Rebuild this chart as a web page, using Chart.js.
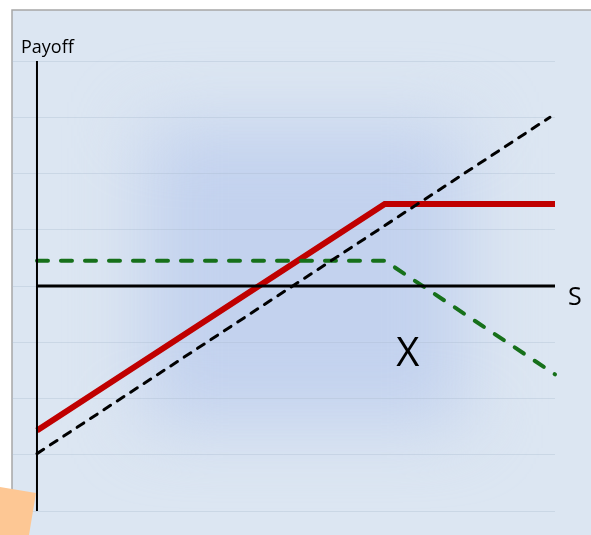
<!DOCTYPE html>
<html>
<head>
  <title>Payoff diagram</title>
  <script src="https://cdn.jsdelivr.net/npm/chart.js"></script>
  <style>
    body { margin: 0; background: #ffffff; }
    #wrap { width: 591px; height: 535px; }
  </style>
</head>
<body>
  <div id="wrap"><canvas id="myChart"></canvas></div>
  <script>
    // stock price points where the lines break
    const sPoints = [0, 6.21, 9.25];
    const redPayoff = [-2.57, 1.46, 1.46];      // solid red position
    const greenPayoff = [0.45, 0.45, -1.57];    // dashed green position
    const stockS = [0, 9.16];
    const stockPayoff = [-2.98, 3.0];           // dashed black position
    const strikeX = 6.21;
    const yTicks = [-4, 4];

    function pts(xs, ys) {
      return xs.map((x, i) => ({ x: x, y: ys[i] }));
    }

    // background, labels and the small peach shape
    const decor = {
      id: 'decor',
      beforeDraw(chart) {
        const c = chart.ctx;
        c.save();
        c.fillStyle = '#ffffff';
        c.fillRect(0, 0, chart.width, chart.height);
        c.fillStyle = '#dce6f2';
        c.fillRect(12, 10, chart.width - 12, chart.height - 10);
        c.filter = 'blur(35px)';
        c.fillStyle = '#c3d2ee';
        c.fillRect(145, 125, 320, 300);
        c.filter = 'none';
        c.strokeStyle = '#a6a6a6';
        c.lineWidth = 1.5;
        c.beginPath();
        c.moveTo(12, chart.height);
        c.lineTo(12, 10);
        c.lineTo(chart.width, 10);
        c.stroke();
        c.restore();
      },
      afterDraw(chart) {
        const c = chart.ctx;
        const xs = chart.scales.x, ys = chart.scales.y;
        c.save();
        c.fillStyle = '#000000';
        c.textBaseline = 'alphabetic';
        c.font = '18px "Open Sans"';
        c.fillText('Payoff', 21, 53);
        c.font = '25px "Open Sans"';
        c.fillText('S', 568, ys.getPixelForValue(0) + 19);
        c.font = '40px "Open Sans"';
        c.textAlign = 'center';
        c.fillText('X', xs.getPixelForValue(strikeX) + 23, 366);
        c.fillStyle = '#fdc794';
        c.beginPath();
        c.moveTo(0, 487);
        c.lineTo(36, 493);
        c.lineTo(29, chart.height);
        c.lineTo(0, chart.height);
        c.closePath();
        c.fill();
        c.restore();
      }
    };

    var ctx = document.getElementById('myChart').getContext('2d');
    var myChart = new Chart(ctx, {
      type: 'scatter',
      data: {
        datasets: [
          {
            label: 'y axis',
            data: pts([0, 0], [-4, 4]),
            showLine: true,
            borderColor: '#000000',
            borderWidth: 2,
            pointRadius: 0
          },
          {
            label: 'x axis',
            data: pts([0, 9.25], [0, 0]),
            showLine: true,
            borderColor: '#000000',
            borderWidth: 3,
            pointRadius: 0
          },
          {
            label: 'stock',
            data: pts(stockS, stockPayoff),
            showLine: true,
            borderColor: '#000000',
            borderWidth: 3,
            borderDash: [8, 8],
            borderCapStyle: 'round',
            pointRadius: 0
          },
          {
            label: 'put',
            data: pts(sPoints, greenPayoff),
            showLine: true,
            borderColor: '#16701a',
            borderWidth: 4,
            borderDash: [11, 13],
            borderCapStyle: 'round',
            pointRadius: 0
          },
          {
            label: 'covered call',
            data: pts(sPoints, redPayoff),
            showLine: true,
            borderColor: '#c00000',
            borderWidth: 6,
            pointRadius: 0
          }
        ]
      },
      options: {
        responsive: true,
        maintainAspectRatio: false,
        animation: false,
        layout: { padding: { left: 12, right: 36, top: 61, bottom: 24 } },
        plugins: { legend: { display: false }, tooltip: { enabled: false } },
        elements: { line: { tension: 0 } },
        datasets: { scatter: { clip: false } },
        scales: {
          x: { type: 'linear', display: false, min: -0.446, max: 9.25 },
          y: {
            type: 'linear',
            min: yTicks[0],
            max: yTicks[1],
            ticks: { display: false, stepSize: 1 },
            grid: { drawTicks: false, color: 'rgba(170,185,205,0.35)', lineWidth: 1 },
            border: { display: false }
          }
        }
      },
      plugins: [decor]
    });
  </script>
</body>
</html>
